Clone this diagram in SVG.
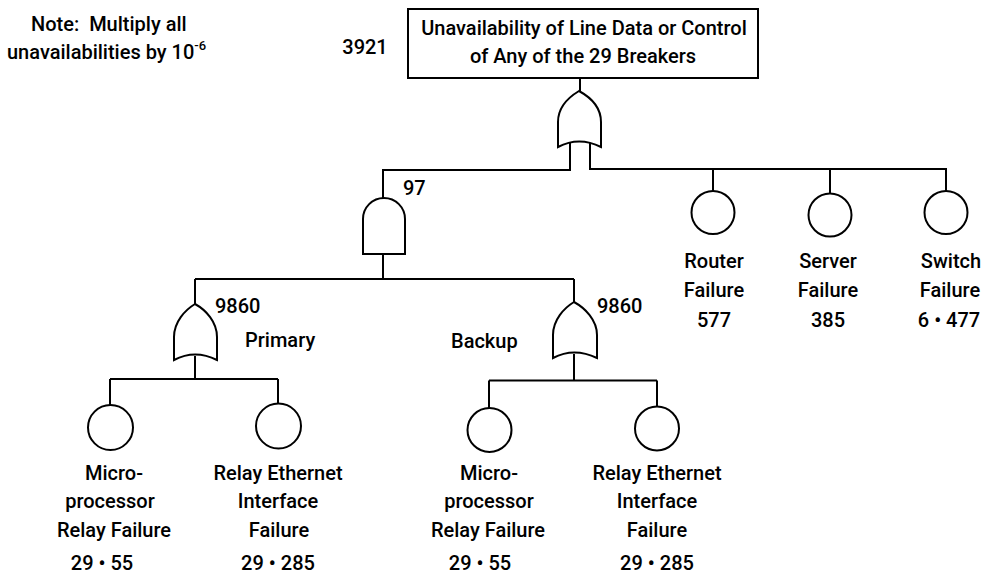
<svg xmlns="http://www.w3.org/2000/svg" width="983" height="576" viewBox="0 0 983 576">
  <style>
    text { font-family: Roboto, "Liberation Sans", Arial, sans-serif; font-weight: 500; font-size: 20px; fill: #000; }
    .c { text-anchor: middle; }
    .pre { white-space: pre; }
    .ln { fill: none; stroke: #000; stroke-width: 2; }
    .gate { fill: #fff; stroke: #000; stroke-width: 2; stroke-linejoin: miter; }
  </style>
  <rect width="983" height="576" fill="#fff"/>

  <!-- note -->
  <g id="note">
    <text x="31" y="31" class="pre">Note:  Multiply all</text>
    <text x="7" y="59">unavailabilities by 10<tspan font-size="13" dy="-9">-6</tspan></text>
  </g>

  <!-- connectors -->
  <g id="connectors" class="ln">
    <path d="M580,78 V92"/>
    <path d="M570,143 V170 H383 V198"/>
    <path d="M590,143 V169 H946 V191"/>
    <path d="M713,169 V191"/>
    <path d="M830,169 V194"/>
    <path d="M383,254 V279"/>
    <path d="M195,279 H574"/>
    <path d="M195,279 V305"/>
    <path d="M574,279 V303"/>
    <path d="M195,356 V379"/>
    <path d="M110,379 H278"/>
    <path d="M110,379 V405"/>
    <path d="M278,379 V404"/>
    <path d="M574,354 V380.5"/>
    <path d="M489,380.5 H657"/>
    <path d="M489,380.5 V408"/>
    <path d="M657,380.5 V407"/>
  </g>

  <!-- top event -->
  <g id="top-event">
    <rect x="408" y="9" width="350" height="69" class="gate"/>
    <text x="584" y="35" class="c">Unavailability of Line Data or Control</text>
    <text x="583" y="63" class="c">of Any of the 29 Breakers</text>
    <text x="365" y="54" class="c">3921</text>
  </g>

  <!-- top OR gate -->
  <g id="or-top">
    <path class="gate" d="M579,91 C569,97 558,107 558,122 L558,147 Q579,136 601,147 L601,122 C601,107 590,97 579,91 Z"/>
  </g>

  <!-- AND gate -->
  <g id="and-relays">
    <path class="gate" d="M363,254 L363,219 A21,21 0 0 1 405,219 L405,254 Z"/>
    <text x="403" y="195">97</text>
  </g>

  <!-- primary OR gate -->
  <g id="or-primary">
    <path class="gate" d="M195,304 C185,310 174,322 174,337 L174,360 Q195,349 217,360 L217,337 C217,322 206,310 195,304 Z"/>
    <text x="215" y="313">9860</text>
    <text x="245" y="347">Primary</text>
  </g>

  <!-- backup OR gate -->
  <g id="or-backup">
    <path class="gate" d="M574,302 C564,308 553,320 553,335 L553,358 Q574,347 597,358 L597,335 C597,320 585,308 574,302 Z"/>
    <text x="597" y="313">9860</text>
    <text x="451" y="348">Backup</text>
  </g>

  <!-- basic events -->
  <g id="router">
    <circle cx="713" cy="212.5" r="21.5" class="gate"/>
    <text x="714" y="268" class="c">Router</text>
    <text x="714" y="297" class="c">Failure</text>
    <text x="714" y="327" class="c">577</text>
  </g>
  <g id="server">
    <circle cx="830" cy="215" r="21.5" class="gate"/>
    <text x="828" y="268" class="c">Server</text>
    <text x="828" y="297" class="c">Failure</text>
    <text x="828" y="327" class="c">385</text>
  </g>
  <g id="switch">
    <circle cx="946" cy="212.5" r="21.5" class="gate"/>
    <text x="951" y="268" class="c">Switch</text>
    <text x="950" y="297" class="c">Failure</text>
    <text x="949" y="327" class="c">6 • 477</text>
  </g>

  <g id="primary-relay">
    <circle cx="110.5" cy="427.5" r="22.5" class="gate"/>
    <text x="114" y="480" class="c">Micro-</text>
    <text x="110" y="508" class="c">processor</text>
    <text x="114" y="537" class="c">Relay Failure</text>
    <text x="102" y="570" class="c">29 • 55</text>
  </g>
  <g id="primary-ethernet">
    <circle cx="278.5" cy="426" r="22.5" class="gate"/>
    <text x="278" y="480" class="c">Relay Ethernet</text>
    <text x="278" y="508" class="c">Interface</text>
    <text x="279" y="537" class="c">Failure</text>
    <text x="278" y="570" class="c">29 • 285</text>
  </g>
  <g id="backup-relay">
    <circle cx="489.5" cy="430" r="22" class="gate"/>
    <text x="489" y="480" class="c">Micro-</text>
    <text x="489" y="508" class="c">processor</text>
    <text x="488" y="537" class="c">Relay Failure</text>
    <text x="480" y="570" class="c">29 • 55</text>
  </g>
  <g id="backup-ethernet">
    <circle cx="657" cy="428.5" r="22" class="gate"/>
    <text x="657" y="480" class="c">Relay Ethernet</text>
    <text x="657" y="508" class="c">Interface</text>
    <text x="657" y="537" class="c">Failure</text>
    <text x="657" y="570" class="c">29 • 285</text>
  </g>
</svg>
